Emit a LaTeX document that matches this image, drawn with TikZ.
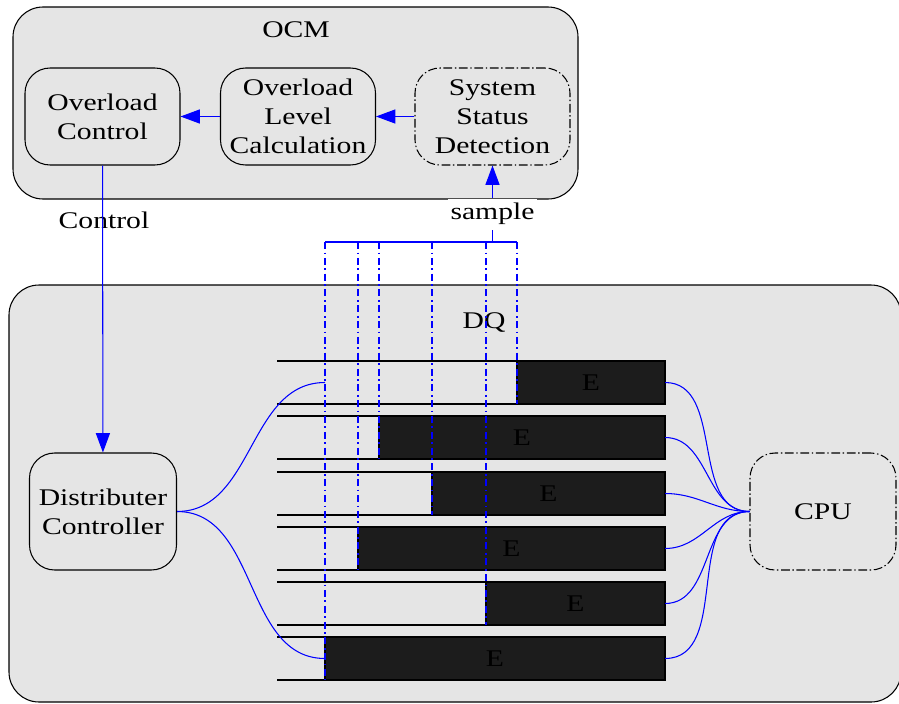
\documentclass[tikz,border=0pt]{standalone}
\usepackage{fontspec}
\setmainfont[FakeStretch=1.24]{Liberation Serif}
\usepackage{xcolor}
\usetikzlibrary{arrows.meta,positioning}
\definecolor{panelgray}{RGB}{229,229,229}
\definecolor{queueblack}{RGB}{28,28,28}
\definecolor{linkblue}{RGB}{0,0,255}
\tikzset{
  groupbox/.style={draw=black, fill=panelgray, rounded corners=0.6cm, line width=0.6pt},
  blockbox/.style={draw=black, fill=panelgray, rounded corners=0.5cm, line width=0.6pt,
    minimum width=3.1cm, minimum height=1.94cm, align=center, inner sep=1pt},
  probebox/.style={blockbox, dash pattern=on 5pt off 1.5pt on 0.8pt off 1.5pt},
  flow/.style={-{Triangle[length=11pt,width=8pt]}, line width=0.6pt, color=linkblue},
  wire/.style={line width=0.6pt, color=linkblue},
  probe/.style={line width=0.7pt, color=linkblue, dash pattern=on 4pt off 2pt on 1pt off 2pt},
  rail/.style={line width=0.6pt, color=black},
}
\begin{document}
\begin{tikzpicture}[x=0.02cm, y=-0.02cm, font=\fontsize{13.6}{16.4}\selectfont]
\useasboundingbox (0,0) rectangle (899,703);
\clip (0,0) rectangle (899,703);
\fill[white] (0,0) rectangle (899,703);

% OCM
\draw[groupbox] (13,7) rectangle (578,199);
\node (ocmtitle) at (296,30) {OCM};
\node[blockbox] (ovctl) at (102.5,116.5) {Overload\\Control};
\node[blockbox] (ovlvl) at (298,116.5) {Overload\\Level\\Calculation};
\node[probebox] (ssd) at (492.5,116.5) {System\\Status\\Detection};
\draw[flow] (ovlvl) -- (ovctl);
\draw[flow] (ssd) -- (ovlvl);

% DQ
\draw[groupbox] (9,285) rectangle (901,702);
\node (dqtitle) at (484,323) {DQ};
\node[blockbox, minimum width=2.94cm, minimum height=2.34cm] (distctl) at (103,511.5) {Distributer\\Controller};
\node[probebox, minimum width=2.92cm, minimum height=2.34cm] (cpu) at (823,511.5) {CPU};

% queues
\foreach \q/\qtop/\qhead in {1/361/517, 2/416/379, 3/472/432, 4/527/358, 5/582/486, 6/637/325} {
  \draw[rail] (277,\qtop) -- (665,\qtop);
  \draw[rail] (277,\qtop+43) -- (665,\qtop+43);
  \draw[rail, fill=queueblack] (\qhead,\qtop) rectangle (665,\qtop+43);
  \node (elem\q) at ({(\qhead+665)/2},\qtop+21.5) {E};
  \coordinate (tail\q) at (665,\qtop+21.5);
  \coordinate (tap\q) at (\qhead,\qtop+43);
  \coordinate (bus\q) at (\qhead,242);
  \draw[probe] (bus\q) -- (tap\q);
}
\coordinate (feed1) at (325,382.5);
\coordinate (feed6) at (325,658.5);
\draw[wire] (distctl.east) to[out=0, in=180] (feed1);
\draw[wire] (distctl.east) to[out=0, in=180] (feed6);
\foreach \q in {1,...,6}
  \draw[wire] (tail\q) to[out=0, in=180] (cpu.west);

% sampling and control
\draw[wire] (bus6) -- (bus1);
\node[fill=white, inner sep=1.5pt, minimum height=0.62cm] (sample) at (492.5,214) {sample};
\coordinate (busjoin) at (492.5,242);
\draw[wire] (busjoin) -- (sample);
\draw[flow] (sample) -- (ssd);
\node (ctllabel) at (104,220) {Control};
\draw[flow] (ovctl) -- (distctl);
\end{tikzpicture}
\end{document}
